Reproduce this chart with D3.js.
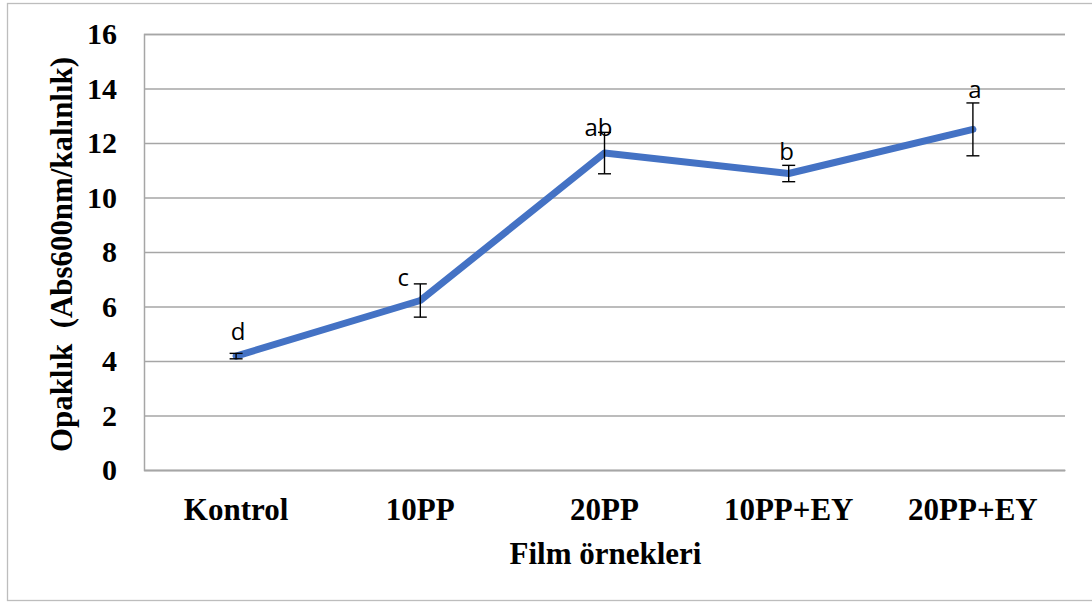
<!DOCTYPE html>
<html>
<head>
<meta charset="utf-8">
<script src="https://cdn.jsdelivr.net/npm/d3@7"></script>
<style>
  html, body { margin: 0; padding: 0; background: #fff; }
  svg { display: block; }
</style>
</head>
<body>
<svg id="chart" width="1092" height="602"></svg>
<script>
// Film samples and their opacity (Abs600nm / thickness)
const categories = ["Kontrol", "10PP", "20PP", "10PP+EY", "20PP+EY"];
const opacity = [4.18, 6.22, 11.63, 10.88, 12.50];
const stdError = [0.1, 0.61, 0.76, 0.3, 0.97];
const groupLetters = ["d", "c", "ab", "b", "a"];
const yTicks = [0, 2, 4, 6, 8, 10, 12, 14, 16];

// per-label nudges [dx, dy] for the significance letters
const labelNudge = [[2, -16], [-17, -15], [-6, -17], [-2, -14], [2, -31]];

const W = 1092, H = 602;
const plot = { left: 144, right: 1065, top: 34, bottom: 470 };

const svg = d3.select("#chart");

// outer chart border
svg.append("rect")
  .attr("x", 7.5).attr("y", 3.5)
  .attr("width", W + 10).attr("height", 597)
  .attr("fill", "none")
  .attr("stroke", "#bdbdbd")
  .attr("stroke-width", 1.3);

const x = d3.scaleBand()
  .domain(categories)
  .range([plot.left, plot.right]);

const y = d3.scaleLinear()
  .domain([0, 16])
  .range([plot.bottom, plot.top]);

const serif = "'Liberation Serif', 'Times New Roman', serif";

// horizontal gridlines + y axis
const yAxis = d3.axisLeft(y)
  .tickValues(yTicks)
  .tickSize(-(plot.right - plot.left))
  .tickPadding(27)
  .tickFormat(d3.format("d"));

const gy = svg.append("g")
  .attr("transform", `translate(${plot.left},0)`)
  .call(yAxis);
gy.select(".domain").attr("stroke", "#a6a6a6").attr("stroke-width", 1.5);
gy.selectAll(".tick line").attr("stroke", "#a6a6a6").attr("stroke-width", 1.5);
gy.selectAll(".tick text")
  .attr("font-family", serif)
  .attr("font-weight", "bold")
  .attr("font-size", 30)
  .attr("fill", "#000");

// x axis labels
const xAxis = d3.axisBottom(x).tickSize(0).tickPadding(28);
const gx = svg.append("g")
  .attr("transform", `translate(0,${plot.bottom})`)
  .call(xAxis);
gx.select(".domain").attr("stroke", "#a6a6a6").attr("stroke-width", 1.5);
gx.selectAll(".tick text")
  .attr("font-family", serif)
  .attr("font-weight", "bold")
  .attr("font-size", 31)
  .attr("fill", "#000");

const cx = d => x(d) + x.bandwidth() / 2;

// series line
const line = d3.line()
  .x((d, i) => cx(categories[i]))
  .y(d => y(d));

svg.append("path")
  .datum(opacity)
  .attr("d", line)
  .attr("fill", "none")
  .attr("stroke", "#4472C4")
  .attr("stroke-width", 7)
  .attr("stroke-linejoin", "round")
  .attr("stroke-linecap", "round");

// error bars
const eb = svg.append("g").attr("stroke", "#000").attr("stroke-width", 1.4);
opacity.forEach((v, i) => {
  const xc = cx(categories[i]);
  const y1 = y(v + stdError[i]), y2 = y(v - stdError[i]);
  eb.append("line").attr("x1", xc).attr("x2", xc).attr("y1", y1).attr("y2", y2);
  eb.append("line").attr("x1", xc - 6.5).attr("x2", xc + 6.5).attr("y1", y1).attr("y2", y1);
  eb.append("line").attr("x1", xc - 6.5).attr("x2", xc + 6.5).attr("y1", y2).attr("y2", y2);
});

// significance letters
svg.append("g").selectAll("text")
  .data(groupLetters)
  .join("text")
  .attr("x", (d, i) => cx(categories[i]) + labelNudge[i][0])
  .attr("y", (d, i) => y(opacity[i]) + labelNudge[i][1])
  .attr("text-anchor", "middle")
  .attr("font-family", "'Open Sans', 'Liberation Sans', sans-serif")
  .attr("font-size", 24)
  .attr("fill", "#000")
  .text(d => d);

// axis titles
svg.append("text")
  .attr("x", (plot.left + plot.right) / 2 + 1)
  .attr("y", 564)
  .attr("text-anchor", "middle")
  .attr("font-family", serif)
  .attr("font-weight", "bold")
  .attr("font-size", 31)
  .attr("fill", "#000")
  .text("Film örnekleri");

svg.append("text")
  .attr("transform", "translate(72,254.5) rotate(-90)")
  .attr("text-anchor", "middle")
  .attr("font-family", serif)
  .attr("font-weight", "bold")
  .attr("font-size", 31)
  .attr("fill", "#000")
  .attr("textLength", 395)
  .attr("lengthAdjust", "spacingAndGlyphs")
  .attr("xml:space", "preserve")
  .style("white-space", "pre")
  .text("Opaklık  (Abs600nm/kalınlık)");
</script>
</body>
</html>
